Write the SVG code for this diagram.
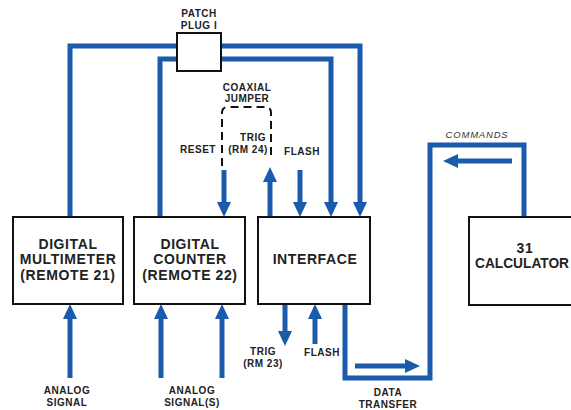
<svg xmlns="http://www.w3.org/2000/svg" width="571" height="410" viewBox="0 0 571 410">
<style>
  .box { fill: #fff; stroke: #111; stroke-width: 2; }
  .wire { fill: none; stroke: #1a5bab; stroke-width: 5; stroke-linejoin: miter; stroke-linecap: butt; }
  .arr { fill: none; stroke: #1a5bab; stroke-width: 5; marker-end: url(#ah); }
  .dash { fill: none; stroke: #111; stroke-width: 2; stroke-dasharray: 8 5; }
  .big { font-family: "Liberation Sans", Arial, sans-serif; font-size: 14px; font-weight: bold; fill: #222; text-anchor: middle; letter-spacing: 0.6px; }
  .sm { font-family: "Liberation Sans", Arial, sans-serif; font-size: 10px; font-weight: bold; fill: #222; text-anchor: middle; letter-spacing: 0.5px; }
  .it { font-family: "Liberation Sans", Arial, sans-serif; font-size: 9.5px; font-style: italic; fill: #333; text-anchor: middle; letter-spacing: 0.8px; }
</style>
<defs>
  <marker id="ah" markerUnits="userSpaceOnUse" viewBox="0 -7 15 14" refX="0" refY="0" markerWidth="15" markerHeight="14" orient="auto">
    <path d="M0,-7 L15,0 L0,7 z" fill="#1a5bab"/>
  </marker>
</defs>
<rect width="571" height="410" fill="#fff"/>

<g id="connectors">
  <!-- patch plug wires -->
  <path class="wire" d="M70,217 V46 H178"/>
  <path class="wire" d="M160,217 V59 H178"/>
  <path class="arr" d="M220,46 H360 V202"/>
  <path class="arr" d="M220,59 H331 V202"/>
  <!-- top signal arrows -->
  <path class="arr" d="M224,170 V202"/>
  <path class="arr" d="M270,217 V182"/>
  <path class="arr" d="M300,170 V202"/>
  <!-- coaxial jumper -->
  <path class="dash" d="M222,166 V113 Q222,107 228,107 H265 Q271,107 271,113 V160"/>
  <!-- bottom inputs -->
  <path class="arr" d="M70,378 V319"/>
  <path class="arr" d="M161,378 V319"/>
  <path class="arr" d="M222,378 V319"/>
  <!-- interface bottom -->
  <path class="arr" d="M285,305 V331"/>
  <path class="arr" d="M315,344 V319"/>
  <!-- data / commands loop -->
  <path class="wire" d="M524,217 V145 H430 V378 H345 V304"/>
  <path class="arr" d="M355,366 H405"/>
  <path class="arr" d="M512,161 H458"/>
</g>

<g id="patch-plug">
  <rect class="box" x="177" y="33" width="44" height="38"/>
  <text class="sm" x="199" y="17">PATCH</text>
  <text class="sm" x="199" y="29">PLUG I</text>
</g>

<g id="multimeter">
  <rect class="box" x="13" y="217" width="110" height="87"/>
  <text class="big" x="68" y="249">DIGITAL</text>
  <text class="big" x="68" y="264">MULTIMETER</text>
  <text class="big" x="68" y="280">(REMOTE 21)</text>
</g>

<g id="counter">
  <rect class="box" x="134" y="217" width="111" height="87"/>
  <text class="big" x="190" y="249">DIGITAL</text>
  <text class="big" x="190" y="264">COUNTER</text>
  <text class="big" x="190" y="280">(REMOTE 22)</text>
</g>

<g id="interface">
  <rect class="box" x="258" y="217" width="112" height="87"/>
  <text class="big" x="315" y="264">INTERFACE</text>
</g>

<g id="calculator">
  <rect class="box" x="469" y="217" width="110" height="88"/>
  <text class="big" x="525" y="253">31</text>
  <text class="big" x="475" y="268" style="text-anchor:start;letter-spacing:0" textLength="94" lengthAdjust="spacingAndGlyphs">CALCULATOR</text>
</g>

<g id="labels">
  <text class="sm" x="247" y="91">COAXIAL</text>
  <text class="sm" x="247" y="102">JUMPER</text>
  <text class="sm" x="253" y="141">TRIG</text>
  <text class="sm" x="248" y="153">(RM 24)</text>
  <text class="sm" x="198" y="153">RESET</text>
  <text class="sm" x="302" y="155">FLASH</text>
  <text class="sm" x="67" y="394">ANALOG</text>
  <text class="sm" x="67" y="406">SIGNAL</text>
  <text class="sm" x="192" y="394">ANALOG</text>
  <text class="sm" x="192" y="406">SIGNAL(S)</text>
  <text class="sm" x="263" y="355">TRIG</text>
  <text class="sm" x="263" y="367">(RM 23)</text>
  <text class="sm" x="322" y="356">FLASH</text>
  <text class="sm" x="388" y="396">DATA</text>
  <text class="sm" x="388" y="408">TRANSFER</text>
  <text class="it" x="477" y="138">COMMANDS</text>
</g>
</svg>
